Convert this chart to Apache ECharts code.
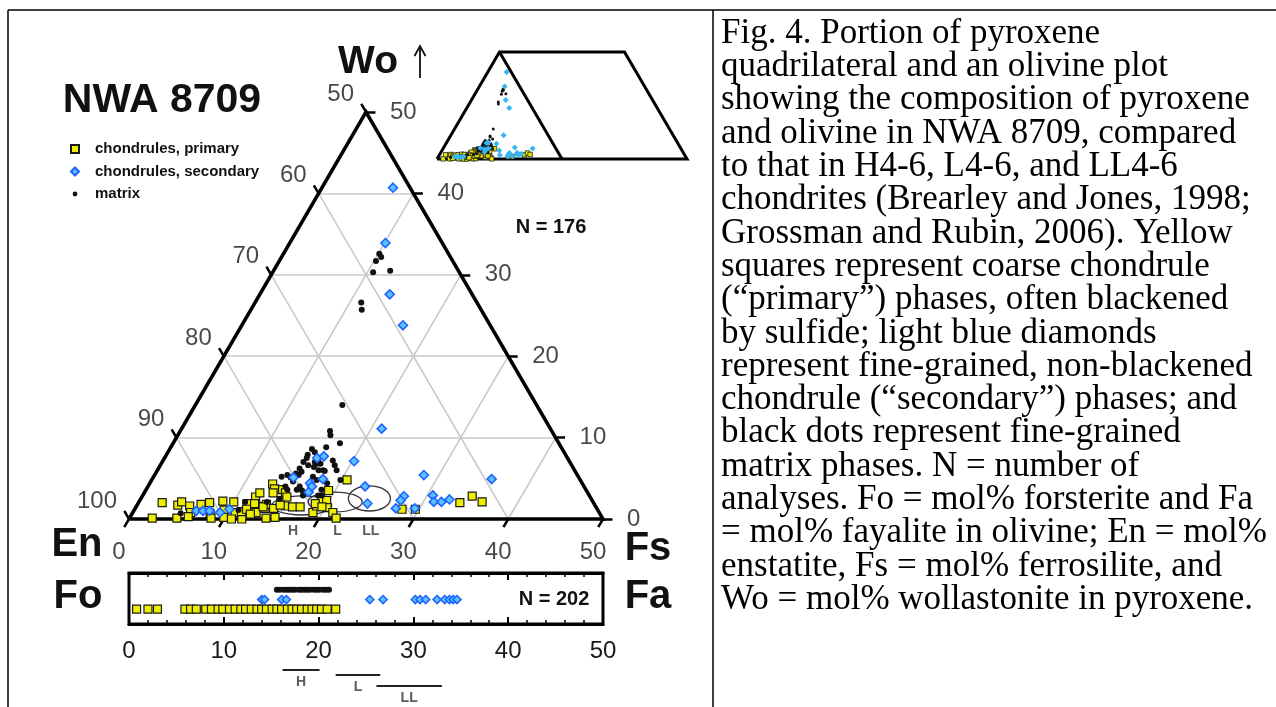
<!DOCTYPE html>
<html><head><meta charset="utf-8">
<script src="https://cdn.jsdelivr.net/npm/echarts@6/dist/echarts.min.js"></script>
<style>html,body{margin:0;padding:0;background:#fff;}#c{width:1276px;height:707px;}</style>
</head><body><div id="c"></div>
<script>
// ---------------- DATA ----------------
const ternTicks = [0, 10, 20, 30, 40, 50];
const gridLevels = [10, 20, 30, 40];
const enTickLabels = ['100', '90', '80', '70', '60', '50'];
const fsTickLabels = ['0', '10', '20', '30', '40', '50'];
const woTickLabels = ['0', '10', '20', '30', '40', '50'];

// Pyroxene compositions (mol% Fs, mol% Wo)
const primaryFs = [2.4,2.5,4.3,4.5,5.0,5.6,6.1,6.1,6.7,7.5,8.2,8.6,8.8,9.5,9.9,10.0,10.8,10.8,11.9,11.4,11.5,11.8,12.0,12.7,13.0,13.7,13.6,14.4,15.3,13.0,13.5,13.6,15.7,16.5,17.3,19.0,19.0,19.2,19.7,20.2,21.1,21.8,20.6,14.4,14.9,15.3,12.2,12.3,13.4,14.6,15.1,12.5,18.7,19.6,19.3,28.2,29.6,33.9,34.8,36.2];
const primaryWo = [0.1,2.0,1.7,2.1,0.1,1.6,0.8,0.3,1.8,2.0,0.7,0.1,2.2,1.1,0.2,2.1,0.8,0.0,0.0,0.9,1.9,1.2,2.7,1.6,0.8,1.3,1.8,0.1,0.2,4.3,3.7,3.2,1.6,1.5,1.5,0.8,1.6,2.3,2.3,1.4,0.8,0.1,4.8,3.6,3.2,2.7,3.2,1.9,1.5,1.3,1.7,0.6,1.9,1.5,3.5,1.2,1.2,2.0,2.8,2.1];
const secondaryFs = [7.5,10.1,13.7,17.0,21.1,20.2,28.4,35.8,22.9,24.2,27.6,27.5,27.5,29.5,30.6,31.1,31.9,32.6,16.1,16.7,14.8,16.9,17.3,18.0,17.3,6.6,7.3,8.0,9.2,10.0];
const secondaryWo = [40.7,33.9,27.6,23.8,11.1,7.1,5.4,4.9,4.0,1.9,2.8,2.3,1.3,1.3,2.9,2.1,2.1,2.4,7.5,7.7,5.1,4.4,3.3,4.9,4.0,1.0,1.0,1.0,0.8,1.2];
const matrixFs = [10.1,10.5,10.2,10.6,12.3,11.2,11.7,15.5,15.8,16.1,17.6,16.4,15.0,15.5,14.9,15.0,14.9,16.4,16.8,16.3,17.5,17.0,17.9,18.4,18.9,18.7,17.4,15.3,15.2,14.8,14.5,15.0,14.0,16.0,16.5,16.9,15.9,13.5,14.5,14.9,14.6,18.5,18.9,19.9,5.1,11.0,11.2,13.5,18.5,16.3,17.7,16.8,14.9,15.6,16.1];
const matrixWo = [32.6,32.2,31.7,30.3,30.5,26.6,25.7,14.0,10.8,10.3,9.3,8.8,8.6,8.2,7.9,7.5,7.0,6.8,6.8,6.4,6.0,6.0,7.2,6.6,6.0,4.4,4.8,5.8,5.4,5.6,5.1,4.6,5.4,4.0,3.5,2.9,3.6,5.2,4.0,3.6,2.5,3.6,2.9,4.8,0.7,1.1,2.1,2.1,2.9,7.3,5.9,5.2,6.2,6.6,7.0];

// Olivine compositions (mol% Fa)
const olPrimaryFa = [0.8,2.0,3.0,5.9,6.5,7.1,8.1,8.7,9.4,9.9,10.6,11.2,11.8,12.3,12.9,13.5,14.0,14.5,15.1,15.6,16.1,16.7,17.2,17.7,18.2,18.8,19.3,19.8,20.3,20.9,21.8];
const olSecondaryFa = [14.0,14.3,16.1,16.6,25.4,26.8,30.2,30.7,31.3,32.5,33.3,33.8,34.2,34.6];
const olMatrixFa = [15.6,15.9,16.3,16.6,16.9,17.2,17.5,17.9,18.2,18.5,18.8,19.1,19.5,19.8,20.1,20.5,20.8,21.1];

// Equilibrated chondrite fields
const groupNames = ['H', 'L', 'LL'];
const pxFieldFs = [17.4, 20.7, 24.1];
const pxFieldWo = [1.66, 2.09, 2.52];
const pxFieldHalfFs = [3.16, 2.85, 2.22];
const pxFieldHalfWo = [1.17, 1.22, 1.54];
const pxGroupLabelFs = [17.3, 22.0, 25.5];
const olFieldMin = [16.2, 21.8, 26.1];
const olFieldMax = [20.1, 26.5, 33.0];

const captionLines = [
  'Fig. 4. Portion of pyroxene',
  'quadrilateral and an olivine plot',
  'showing the composition of pyroxene',
  'and olivine in NWA 8709, compared',
  'to that in H4-6, L4-6, and LL4-6',
  'chondrites (Brearley and Jones, 1998;',
  'Grossman and Rubin, 2006). Yellow',
  'squares represent coarse chondrule',
  '(\u201cprimary\u201d) phases, often blackened',
  'by sulfide; light blue diamonds',
  'represent fine-grained, non-blackened',
  'chondrule (\u201csecondary\u201d) phases; and',
  'black dots represent fine-grained',
  'matrix phases. N = number of',
  'analyses. Fo = mol% forsterite and Fa',
  '= mol% fayalite in olivine; En = mol%',
  'enstatite, Fs = mol% ferrosilite, and',
  'Wo = mol% wollastonite in pyroxene.'
];

// ---------------- STYLE ----------------
const SANS = 'Liberation Sans';
const TICK_LEN = 1.0;
const ROW = { primary: 1.45, secondary: 2.4, matrix: 3.35 };
const BAR_Y = [-4.5, -5.0, -6.05];
const NAMES = ['chondrules, primary', 'chondrules, secondary', 'matrix'];

// ---------------- HELPERS ----------------
const SQ = Math.sqrt(3) / 2;
const tern = (fs, wo) => [fs + wo / 2, wo * SQ];
const pts = (fsArr, woArr) => fsArr.map((f, i) => tern(f, woArr[i]));

const gridSegs = [];
gridLevels.forEach(v => {
  gridSegs.push([tern(0, v), tern(50 - v, v)]);
  gridSegs.push([tern(v, 0), tern(v, 50 - v)]);
  gridSegs.push([tern(0, v), tern(v, 0)]);
});
const tickSegs = [];
const bottomLab = [], rightLab = [], leftLab = [];
ternTicks.forEach((t, i) => {
  const b = tern(t, 0); tickSegs.push([b, [b[0] - 0.5 * TICK_LEN, b[1] - SQ * TICK_LEN]]);
  const r = tern(50 - t, t); tickSegs.push([r, [r[0] + TICK_LEN, r[1]]]);
  const l = tern(0, t); tickSegs.push([l, [l[0] - 0.5 * TICK_LEN, l[1] + SQ * TICK_LEN]]);
  bottomLab.push({ name: fsTickLabels[i], value: b });
  rightLab.push({ name: woTickLabels[i], value: r });
  leftLab.push({ name: enTickLabels[i], value: l });
});

function labelSeries(data, xi, yi, lab) {
  return {
    type: 'scatter', xAxisIndex: xi, yAxisIndex: yi, symbol: 'circle', symbolSize: 1,
    itemStyle: { color: 'rgba(0,0,0,0)' }, silent: true, z: 8, clip: false,
    emphasis: { disabled: true },
    data: data,
    label: Object.assign({ show: true, position: 'inside', formatter: '{b}', verticalAlign: 'middle',
      fontFamily: SANS, fontSize: 24, color: '#1a1a1a' }, lab)
  };
}
function segSeries(segsArr, xi, yi, color, width, z, polyline) {
  return {
    type: 'lines', coordinateSystem: 'cartesian2d', xAxisIndex: xi, yAxisIndex: yi,
    polyline: !!polyline, silent: true, z: z, clip: false, animation: false,
    data: segsArr.map(c => ({ coords: c })),
    lineStyle: { color: color, width: width, opacity: 1, cap: 'butt', join: 'miter' }
  };
}

const chart = echarts.init(document.getElementById('c'), null, { renderer: 'canvas' });

const strAxis = (pos, showLab) => ({
  gridIndex: 1, type: 'value', min: 0, max: 50, interval: 10, position: pos,
  axisLine: { show: true, onZero: false, lineStyle: { color: '#000', width: 3 } },
  axisTick: { show: true, inside: true, length: 7, lineStyle: { color: '#000', width: 2 } },
  minorTick: { show: true, splitNumber: 5, length: 4, lineStyle: { color: '#000', width: 1.5 } },
  axisLabel: { show: showLab, fontFamily: SANS, fontSize: 24, color: '#1a1a1a', margin: 15 },
  splitLine: { show: false }, minorSplitLine: { show: false }
});

const option = {
  animation: false,
  backgroundColor: '#fff',
  grid: [
    { left: 129, top: 112, width: 474, height: 407, outerBoundsMode: 'none', containLabel: false },
    { left: 129, top: 573, width: 474, height: 51, show: true, borderColor: '#000', borderWidth: 3, outerBoundsMode: 'none', containLabel: false },
    { left: 437, top: 52, width: 250, height: 107, outerBoundsMode: 'none', containLabel: false }
  ],
  xAxis: [
    { gridIndex: 0, type: 'value', min: 0, max: 50, show: false },
    strAxis('bottom', true),
    strAxis('top', false),
    { gridIndex: 2, type: 'value', min: 0, max: 100, show: false }
  ],
  yAxis: [
    { gridIndex: 0, type: 'value', min: 0, max: 50 * SQ, show: false },
    { gridIndex: 1, type: 'value', min: 0, max: 5, show: false },
    { gridIndex: 2, type: 'value', min: 0, max: 50 * SQ, show: false }
  ],
  legend: {
    orient: 'vertical', left: 65, top: 136, itemWidth: 8, itemHeight: 8, itemGap: 6.5,
    selectedMode: false,
    data: [
      { name: NAMES[0], icon: 'rect' },
      { name: NAMES[1], icon: 'diamond' },
      { name: NAMES[2], icon: 'path://M0,0M10,10M5,2A3,3,0,1,1,5,8A3,3,0,1,1,5,2Z' }
    ],
    textStyle: { fontFamily: SANS, fontWeight: 'bold', fontSize: 15, color: '#111', lineHeight: 16, padding: [0, 0, 0, 11] }
  },
  graphic: [
    { type: 'line', shape: { x1: 8, y1: 10, x2: 1276, y2: 10 }, style: { stroke: '#000', lineWidth: 1.5 } },
    { type: 'line', shape: { x1: 8, y1: 10, x2: 8, y2: 707 }, style: { stroke: '#000', lineWidth: 1.5 } },
    { type: 'line', shape: { x1: 713, y1: 10, x2: 713, y2: 707 }, style: { stroke: '#000', lineWidth: 1.5 } },
    { type: 'text', x: 162, y: 101, style: { text: 'NWA 8709', fontFamily: SANS, fontWeight: 'bold', fontSize: 41, fill: '#111', align: 'center', verticalAlign: 'middle' } },
    { type: 'text', x: 368, y: 62, style: { text: 'Wo', fontFamily: SANS, fontWeight: 'bold', fontSize: 39, fill: '#111', align: 'center', verticalAlign: 'middle' } },
    { type: 'line', shape: { x1: 420, y1: 78, x2: 420, y2: 47 }, style: { stroke: '#111', lineWidth: 1.8 } },
    { type: 'polyline', shape: { points: [[414.5, 56], [420, 46], [425.5, 56]] }, style: { stroke: '#111', lineWidth: 1.8, fill: 'none' } },
    { type: 'text', x: 77, y: 545, style: { text: 'En', fontFamily: SANS, fontWeight: 'bold', fontSize: 40, fill: '#111', align: 'center', verticalAlign: 'middle' } },
    { type: 'text', x: 648, y: 549, style: { text: 'Fs', fontFamily: SANS, fontWeight: 'bold', fontSize: 40, fill: '#111', align: 'center', verticalAlign: 'middle' } },
    { type: 'text', x: 78, y: 597, style: { text: 'Fo', fontFamily: SANS, fontWeight: 'bold', fontSize: 40, fill: '#111', align: 'center', verticalAlign: 'middle' } },
    { type: 'text', x: 648, y: 597, style: { text: 'Fa', fontFamily: SANS, fontWeight: 'bold', fontSize: 40, fill: '#111', align: 'center', verticalAlign: 'middle' } },
    { type: 'text', x: 551, y: 227, style: { text: 'N = 176', fontFamily: SANS, fontWeight: 'bold', fontSize: 20, fill: '#111', align: 'center', verticalAlign: 'middle' } },
    { type: 'text', x: 554, y: 599, style: { text: 'N = 202', fontFamily: SANS, fontWeight: 'bold', fontSize: 20, fill: '#111', align: 'center', verticalAlign: 'middle' } },
    { type: 'text', x: 721, y: 17, style: { text: captionLines.join('\n'), fontFamily: 'Liberation Serif', fontSize: 35, lineHeight: 33.3, fill: '#000', align: 'left', verticalAlign: 'top' } }
  ],
  series: [
    segSeries(gridSegs, 0, 0, '#c8c8c8', 1.5, 1),
    {
      type: 'custom', xAxisIndex: 0, yAxisIndex: 0, silent: true, z: 2,
      data: groupNames.map((g, i) => { const c = tern(pxFieldFs[i], pxFieldWo[i]); return [c[0], c[1], pxFieldHalfFs[i], pxFieldHalfWo[i] * SQ]; }),
      renderItem: (params, api) => {
        const c = api.coord([api.value(0), api.value(1)]);
        const s = api.size([api.value(2), api.value(3)]);
        return { type: 'ellipse', shape: { cx: c[0], cy: c[1], rx: s[0], ry: s[1] }, style: { fill: 'none', stroke: '#333', lineWidth: 1.3 } };
      }
    },
    segSeries([[tern(0, 0), tern(50, 0), tern(0, 50), tern(0, 0)]], 0, 0, '#000', 3.5, 3, true),
    segSeries(tickSegs, 0, 0, '#000', 2.5, 3),
    { name: NAMES[0], type: 'scatter', xAxisIndex: 0, yAxisIndex: 0, z: 4, symbol: 'rect', symbolSize: 8,
      itemStyle: { color: '#eeee00', borderColor: '#1a1a1a', borderWidth: 1.2, opacity: 1 }, data: pts(primaryFs, primaryWo) },
    { name: NAMES[2], type: 'scatter', xAxisIndex: 0, yAxisIndex: 0, z: 5, symbol: 'circle', symbolSize: 6,
      itemStyle: { color: '#111', opacity: 1 }, data: pts(matrixFs, matrixWo) },
    { name: NAMES[1], type: 'scatter', xAxisIndex: 0, yAxisIndex: 0, z: 6, symbol: 'diamond', symbolSize: 9,
      itemStyle: { color: '#5cc2ff', borderColor: '#1e63ff', borderWidth: 1.6, opacity: 1 }, data: pts(secondaryFs, secondaryWo) },
    labelSeries(bottomLab, 0, 0, { offset: [-10, 33], align: 'center' }),
    labelSeries(rightLab, 0, 0, { offset: [24, 0], align: 'left' }),
    labelSeries(leftLab, 0, 0, { offset: [-12, -18], align: 'right' }),
    labelSeries(groupNames.map((g, i) => ({ name: g, value: [pxGroupLabelFs[i], 0] })), 0, 0,
      { offset: [0, 12], align: 'center', fontSize: 14, fontWeight: 'bold', color: '#333' }),
    // inset quadrilateral
    segSeries([[tern(0, 0), tern(100, 0), tern(50, 50), tern(0, 50), tern(0, 0)], [tern(0, 50), tern(50, 0)]], 3, 2, '#000', 3, 3, true),
    { name: 'inset primary', type: 'scatter', xAxisIndex: 3, yAxisIndex: 2, z: 4, symbol: 'rect', symbolSize: 4.5,
      itemStyle: { color: '#e6e600', borderColor: '#222', borderWidth: 0.8, opacity: 1 }, data: pts(primaryFs, primaryWo) },
    { name: 'inset matrix', type: 'scatter', xAxisIndex: 3, yAxisIndex: 2, z: 5, symbol: 'circle', symbolSize: 3,
      itemStyle: { color: '#111', opacity: 1 }, data: pts(matrixFs, matrixWo) },
    { name: 'inset secondary', type: 'scatter', xAxisIndex: 3, yAxisIndex: 2, z: 6, symbol: 'diamond', symbolSize: 6,
      itemStyle: { color: '#38b6f2', opacity: 1 }, data: pts(secondaryFs, secondaryWo) },
    // olivine strip
    { name: 'ol primary', type: 'scatter', xAxisIndex: 1, yAxisIndex: 1, z: 4, symbol: 'rect', symbolSize: 8,
      itemStyle: { color: '#eeee00', borderColor: '#1a1a1a', borderWidth: 1.2, opacity: 1 }, data: olPrimaryFa.map(v => [v, ROW.primary]) },
    { name: 'ol secondary', type: 'scatter', xAxisIndex: 1, yAxisIndex: 1, z: 6, symbol: 'diamond', symbolSize: 8,
      itemStyle: { color: '#5cc2ff', borderColor: '#1e63ff', borderWidth: 1.6, opacity: 1 }, data: olSecondaryFa.map(v => [v, ROW.secondary]) },
    { name: 'ol matrix', type: 'scatter', xAxisIndex: 1, yAxisIndex: 1, z: 5, symbol: 'circle', symbolSize: 6,
      itemStyle: { color: '#111', opacity: 1 }, data: olMatrixFa.map(v => [v, ROW.matrix]) },
    segSeries(groupNames.map((g, i) => [[olFieldMin[i], BAR_Y[i]], [olFieldMax[i], BAR_Y[i]]]), 1, 1, '#222', 2, 3),
    labelSeries(groupNames.map((g, i) => ({ name: g, value: [(olFieldMin[i] + olFieldMax[i]) / 2, BAR_Y[i]] })), 1, 1,
      { offset: [0, 12], align: 'center', fontSize: 14, fontWeight: 'bold', color: '#333' })
  ]
};
chart.setOption(option);
</script>
</body></html>
